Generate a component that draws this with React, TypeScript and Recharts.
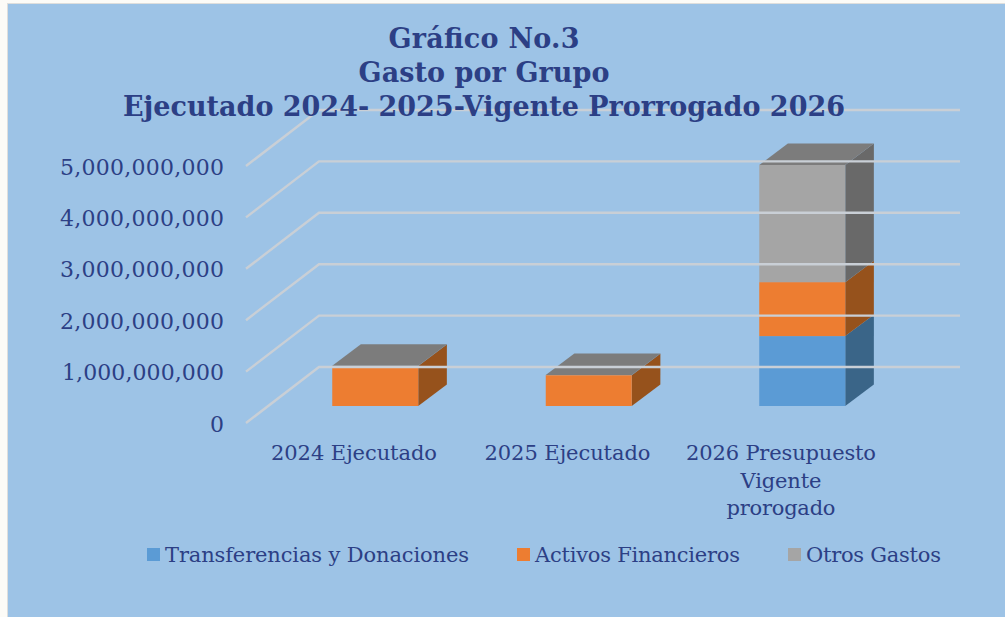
import React from 'react';
import { BarChart, Bar, XAxis, YAxis, Legend } from 'recharts';

const categories = ['2024 Ejecutado', '2025 Ejecutado', '2026 Presupuesto Vigente prorogado'];
const transferencias = [0, 0, 1360000000];
const activos = [780000000, 600000000, 1050000000];
const otros = [5000000, 5000000, 2280000000];
const yTicks = [0, 1000000000, 2000000000, 3000000000, 4000000000, 5000000000];
const titleLines = ['Gráfico No.3', 'Gasto por Grupo', 'Ejecutado 2024- 2025-Vigente Prorrogado 2026'];

const rows = categories.map((name, i) => ({
  name,
  'Transferencias y Donaciones': transferencias[i],
  'Activos Financieros': activos[i],
  'Otros Gastos': otros[i],
}));

const INK = '#2C3F85';
const FONT = '"DejaVu Serif", serif';
const DX = 28.6;
const DY = -21.4;

const textWidths: Record<string, number> = {
  '2024 Ejecutado': 166,
  '2025 Ejecutado': 166,
  '2026 Presupuesto': 190,
  'Vigente': 81,
  'prorogado': 109,
  'Transferencias y Donaciones': 304,
  'Activos Financieros': 205,
  'Otros Gastos': 135,
  '0': 14,
  '1,000,000,000': 162,
  '2,000,000,000': 164,
  '3,000,000,000': 164,
  '4,000,000,000': 164,
  '5,000,000,000': 164,
  'Gráfico No.3': 191,
  'Gasto por Grupo': 251,
  'Ejecutado 2024- 2025-Vigente Prorrogado 2026': 722,
};

const wrap = (s: string) => {
  const out: string[] = [];
  let cur = '';
  for (const w of s.split(' ')) {
    const next = cur ? cur + ' ' + w : w;
    if (next.length > 16 && cur) {
      out.push(cur);
      cur = w;
    } else cur = next;
  }
  out.push(cur);
  return out;
};

const YTick = (p: any) => {
  const y = p.y;
  const label = Number(p.payload.value).toLocaleString('en-US');
  return (
    <g>
      <polyline
        points={`246,${y + 17} 319,${y - 39} 960,${y - 39}`}
        fill="none"
        stroke="#C9CFD6"
        strokeWidth={2.4}
      />
      <text
        x={224}
        y={y + 25.5}
        textAnchor="end"
        fontFamily={FONT}
        fontSize={22}
        fill={INK}
        textLength={textWidths[label]}
      >
        {label}
      </text>
    </g>
  );
};

const XTick = (p: any) => {
  const lines = wrap(String(p.payload.value));
  return (
    <g>
      {lines.map((line, i) => (
        <text
          key={line}
          x={p.x - 21}
          y={460 + i * 27.5}
          textAnchor="middle"
          fontFamily={FONT}
          fontSize={21}
          fill={INK}
          textLength={textWidths[line]}
        >
          {line}
        </text>
      ))}
    </g>
  );
};

const makeBox = (side: string, top?: string) => (p: any) => {
  const { x, y, width, height, fill } = p;
  const r = x + width;
  const b = y + height;
  return (
    <g>
      <polygon points={`${r},${y} ${r + DX},${y + DY} ${r + DX},${b + DY} ${r},${b}`} fill={side} />
      <rect x={x} y={y} width={width} height={height} fill={fill} />
      {top && (
        <polygon points={`${x},${y} ${x + DX},${y + DY} ${r + DX},${y + DY} ${r},${y}`} fill={top} />
      )}
    </g>
  );
};

const legendPlaces: Record<string, [number, number]> = {
  'Transferencias y Donaciones': [147, 165],
  'Activos Financieros': [517, 535],
  'Otros Gastos': [788, 806],
};

const LegendBody = (p: any) => (
  <div style={{ height: 0, position: 'relative' }}>
    <svg width={1005} height={617} style={{ position: 'absolute', left: 0, top: 0, pointerEvents: 'none' }}>
      {(p.payload || []).map((e: any) => {
        const [sx, tx] = legendPlaces[e.value];
        return (
          <g key={e.value}>
            <rect x={sx} y={548} width={13} height={13} fill={e.color} />
            <text x={tx} y={562} fontFamily={FONT} fontSize={21} fill={INK} textLength={textWidths[e.value]}>
              {e.value}
            </text>
          </g>
        );
      })}
    </svg>
  </div>
);

export default function App() {
  return (
    <div style={{ position: 'absolute', left: 0, top: 0, width: 1005, height: 617, overflow: 'hidden', background: '#FCFBF7' }}>
      <div
        style={{
          position: 'absolute',
          left: 7,
          top: 3,
          width: 998,
          height: 614,
          boxSizing: 'border-box',
          background: '#9DC3E6',
          borderLeft: '1.5px solid #DEDEDC',
          borderTop: '1.5px solid #DEDEDC',
        }}
      />
      <div style={{ position: 'absolute', left: 0, top: 0 }}>
        <BarChart
          width={1005}
          height={617}
          data={rows}
          barSize={86}
          barCategoryGap={0}
          margin={{ top: 149, right: 96.25, bottom: 151, left: 0 }}
        >
          <YAxis
            width={268.25}
            domain={[0, 5000000000]}
            ticks={yTicks}
            axisLine={false}
            tickLine={false}
            interval={0}
            tick={<YTick />}
          />
          <XAxis dataKey="name" height={60} axisLine={false} tickLine={false} interval={0} tick={<XTick />} />
          <Legend
            content={<LegendBody />}
            wrapperStyle={{ position: 'absolute', left: 0, top: 0, width: 1005, height: 0 }}
          />
          <Bar dataKey="Transferencias y Donaciones" stackId="a" fill="#5B9BD5" isAnimationActive={false} shape={makeBox('#3A6588')} />
          <Bar dataKey="Activos Financieros" stackId="a" fill="#ED7D31" isAnimationActive={false} shape={makeBox('#96521C')} />
          <Bar dataKey="Otros Gastos" stackId="a" fill="#A5A5A5" isAnimationActive={false} shape={makeBox('#696969', '#7C7C7C')} />
        </BarChart>
      </div>
      <svg width={1005} height={617} style={{ position: 'absolute', left: 0, top: 0, pointerEvents: 'none' }}>
        {titleLines.map((line, i) => (
          <text
            key={line}
            x={484}
            y={48 + i * 34}
            textAnchor="middle"
            fontFamily={FONT}
            fontWeight={700}
            fontSize={27}
            fill={INK}
            textLength={textWidths[line]}
          >
            {line}
          </text>
        ))}
      </svg>
    </div>
  );
}
